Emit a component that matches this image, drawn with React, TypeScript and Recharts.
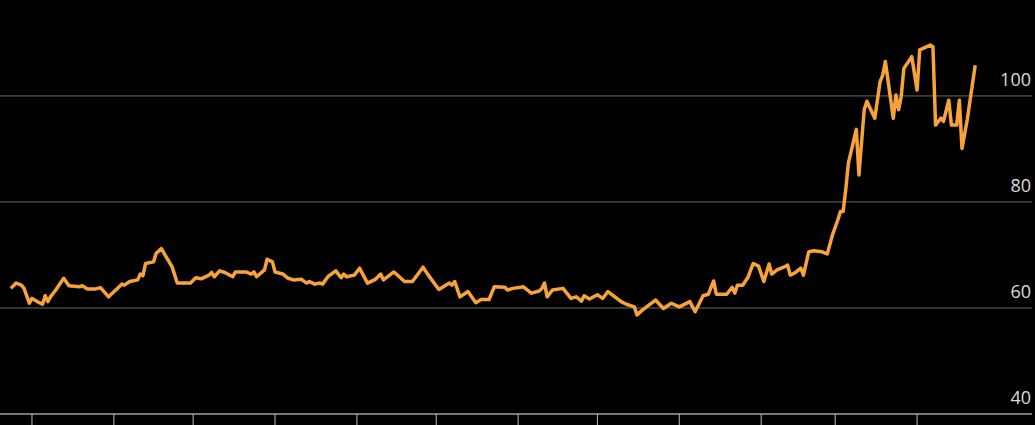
import { LineChart, Line, XAxis, YAxis, CartesianGrid } from 'recharts'

// trading days, counted in calendar days from the first monthly tick
const days = [
  -8, -6, -4, -3, -1, 0, 2, 4, 5, 6, 7, 9, 12, 14, 18, 19, 21, 24, 26, 29,
  33, 34, 35, 37, 40, 41, 42, 43, 46, 47, 49, 50, 53, 55, 60, 62, 64, 67, 68, 69,
  71, 73, 76, 77, 81, 83, 84, 85, 88, 89, 91, 92, 95, 97, 99, 102, 104, 105, 107, 109,
  110, 112, 115, 117, 118, 119, 122, 124, 127, 130, 132, 133, 137, 141, 144, 148, 150, 154, 158, 159,
  160, 162, 165, 168, 170, 173, 175, 179, 180, 182, 185, 186, 189, 192, 193, 194, 195, 197, 201, 204,
  206, 208, 209, 211, 214, 216, 218, 223, 225, 228, 229, 231, 236, 239, 242, 245, 249, 251, 254, 256,
  258, 259, 263, 265, 266, 267, 269, 271, 273, 275, 277, 279, 280, 282, 285, 286, 287, 289, 291, 292,
  294, 296, 299, 301, 303, 305, 306, 307, 308, 309, 312, 313, 315, 316, 319, 321, 322, 323, 326, 327,
  328, 329, 330, 333, 335, 336, 340, 341, 342, 344, 345, 347, 348, 350, 351, 352, 354, 357,
]

const prices = [
  63.7, 64.7, 64.3, 63.7, 60.9, 61.8, 61.2, 60.7, 62.3, 61.2, 62.1, 63.4, 65.6, 64.2, 64.0, 64.2, 63.6, 63.6, 63.8, 62.1,
  64.0, 64.5, 64.3, 65.0, 65.3, 66.4, 66.1, 68.4, 68.7, 70.3, 71.2, 70.3, 67.8, 64.7, 64.7, 65.7, 65.5, 66.2, 66.7, 65.9,
  67.0, 66.7, 65.9, 66.8, 66.8, 66.4, 66.8, 65.9, 67.2, 69.2, 68.7, 66.8, 66.4, 65.6, 65.3, 65.4, 64.7, 65.0, 64.5, 64.7,
  64.5, 65.9, 67.0, 65.7, 66.4, 65.9, 66.2, 67.5, 64.7, 65.4, 66.4, 65.3, 66.8, 65.0, 65.0, 67.7, 66.2, 63.5, 64.7, 64.3,
  65.0, 62.1, 63.1, 61.0, 61.6, 61.6, 64.0, 63.9, 63.4, 63.7, 63.9, 64.0, 62.8, 63.2, 63.7, 64.7, 62.1, 63.4, 63.7, 61.8,
  62.1, 61.3, 62.3, 61.7, 62.5, 61.8, 63.1, 61.2, 60.7, 60.2, 58.7, 59.6, 61.5, 59.9, 60.9, 60.2, 61.2, 59.3, 62.3, 62.6,
  65.1, 62.6, 62.6, 63.9, 62.8, 64.3, 64.3, 65.8, 68.4, 67.9, 65.0, 68.3, 66.4, 67.2, 67.8, 68.1, 66.2, 66.7, 67.5, 66.2,
  70.6, 70.8, 70.6, 70.2, 73.8, 76.6, 78.2, 78.2, 82.3, 87.3, 93.7, 85.1, 97.4, 99.0, 95.8, 102.7, 103.9, 106.5, 95.8, 100.2,
  97.4, 99.9, 105.2, 107.4, 101.1, 108.7, 109.6, 109.3, 94.5, 95.8, 95.2, 99.2, 94.5, 94.5, 99.2, 90.1, 95.5, 105.8,
]

// first day of each month
const monthTicks = [0, 31, 61, 92, 123, 153, 184, 214, 245, 276, 304, 335]
const valueTicks = [40, 60, 80, 100]

const data = days.map((d, i) => ({ day: d, price: prices[i] }))

function ValueTick(props: any) {
  const { y, payload } = props
  return (
    <text
      x={1031}
      y={y - 10}
      textAnchor="end"
      fill="#dcdcdc"
      fontSize={18}
      fontFamily="'Open Sans', sans-serif"
    >
      {payload.value}
    </text>
  )
}

export default function App() {
  return (
    <div style={{ position: 'fixed', top: 0, left: 0, width: 1035, height: 425, background: '#000' }}>
      <LineChart width={1035} height={425} data={data} margin={{ top: 0, right: 0, bottom: 0, left: 0 }}>
        <CartesianGrid vertical={false} horizontalValues={valueTicks} stroke="#6a6a6a" strokeWidth={1} />
        <XAxis
          dataKey="day"
          type="number"
          domain={[-12.1, 378.5]}
          ticks={monthTicks}
          tickFormatter={() => ''}
          height={11}
          tickSize={11}
          stroke="#777"
          axisLine={{ stroke: '#777', strokeWidth: 2 }}
          tickLine={{ stroke: '#bbb', strokeWidth: 1 }}
          allowDataOverflow
        />
        <YAxis
          orientation="right"
          type="number"
          domain={[40, 118.1]}
          ticks={valueTicks}
          width={3}
          axisLine={false}
          tickLine={false}
          tick={<ValueTick />}
          allowDataOverflow
        />
        <Line
          dataKey="price"
          type="linear"
          stroke="#f7a33a"
          strokeWidth={3.5}
          strokeLinejoin="round"
          dot={false}
          activeDot={false}
          isAnimationActive={false}
        />
      </LineChart>
    </div>
  )
}
